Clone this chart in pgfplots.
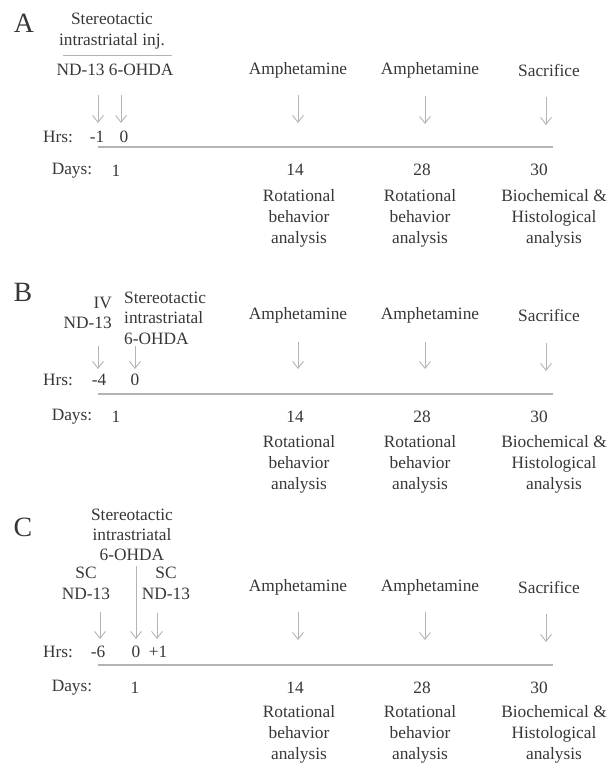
\documentclass[border=0pt]{standalone}
\usepackage{pgfplots}
\pgfplotsset{compat=1.18}
\usepackage{fontspec}
\setmainfont{Liberation Serif}
\usetikzlibrary{arrows.meta}

\definecolor{txtc}{RGB}{55,55,55}
\definecolor{linec}{RGB}{180,180,180}

\begin{document}
\begin{tikzpicture}[
  txt/.style={text=txtc, font=\fontsize{17.4}{21}\selectfont, inner sep=0pt, align=center},
  big/.style={text=txtc, font=\fontsize{28}{30}\selectfont, inner sep=0pt},
]
\begin{axis}[
  width=607bp, height=767bp, scale only axis,
  xmin=0, xmax=607, ymin=0, ymax=767,
  y dir=reverse,
  hide axis, clip=false,
  tl/.style={color=linec, line width=1.4pt},
  ar/.style={color=linec, line width=0.9pt, -{Straight Barb[length=7pt,width=11pt]}},
]
\path (rel axis cs:0,0) rectangle (rel axis cs:1,1);

% ---------------- A
\node[big] at (axis cs:24,23) {A};
\node[txt] at (axis cs:112,31) {Stereotactic\\intrastriatal inj.};
\addplot[tl, line width=1pt] coordinates {(63,56) (172,56)};
\node[txt] at (axis cs:115,70) {ND-13 6-OHDA};
\addplot[ar] coordinates {(98,95) (98,123)};
\addplot[ar] coordinates {(121,95) (121,123)};
\node[txt] at (axis cs:58,137) {Hrs:};
\node[txt] at (axis cs:97,137) {-1};
\node[txt] at (axis cs:124,137) {0};
\addplot[tl] coordinates {(98,147) (553,147)};
\node[txt] at (axis cs:72,171) {Days:};
\node[txt] at (axis cs:116,171) {1};
% events
\node[txt] at (axis cs:298,70) {Amphetamine};
\node[txt] at (axis cs:430,70) {Amphetamine};
\node[txt] at (axis cs:549,70) {Sacrifice};
\addplot[ar] coordinates {(298,95) (298,123)};
\addplot[ar] coordinates {(425,96) (425,124)};
\addplot[ar] coordinates {(546,97) (546,125)};
\node[txt] at (axis cs:295,170) {14};
\node[txt] at (axis cs:422,170) {28};
\node[txt] at (axis cs:539,170) {30};
\node[txt] at (axis cs:299,218) {Rotational\\behavior\\analysis};
\node[txt] at (axis cs:420,218) {Rotational\\behavior\\analysis};
\node[txt] at (axis cs:554,218) {Biochemical \&\\Histological\\analysis};

% ---------------- B
\node[big] at (axis cs:23,292) {B};
\node[txt, anchor=east, align=right, font=\fontsize{17.4}{20}\selectfont] at (axis cs:112,313) {IV\\ND-13};
\node[txt, anchor=west, align=left, font=\fontsize{17.4}{20.5}\selectfont] at (axis cs:124,318) {Stereotactic\\intrastriatal\\6-OHDA};
\addplot[ar] coordinates {(98,346) (98,369)};
\addplot[ar] coordinates {(135,346) (135,369)};
\node[txt] at (axis cs:58,380) {Hrs:};
\node[txt] at (axis cs:99,380) {-4};
\node[txt] at (axis cs:135,380) {0};
\addplot[tl] coordinates {(98,394) (553,394)};
\node[txt] at (axis cs:72,417) {Days:};
\node[txt] at (axis cs:116,417) {1};
\node[txt] at (axis cs:298,315) {Amphetamine};
\node[txt] at (axis cs:430,315) {Amphetamine};
\node[txt] at (axis cs:549,315) {Sacrifice};
\addplot[ar] coordinates {(298,342) (298,369)};
\addplot[ar] coordinates {(425,342) (425,369)};
\addplot[ar] coordinates {(546,343) (546,371)};
\node[txt] at (axis cs:295,417) {14};
\node[txt] at (axis cs:422,417) {28};
\node[txt] at (axis cs:539,417) {30};
\node[txt] at (axis cs:299,464) {Rotational\\behavior\\analysis};
\node[txt] at (axis cs:420,464) {Rotational\\behavior\\analysis};
\node[txt] at (axis cs:554,464) {Biochemical \&\\Histological\\analysis};

% ---------------- C
\node[big] at (axis cs:23,527) {C};
\node[txt, font=\fontsize{17.4}{20}\selectfont] at (axis cs:132,535) {Stereotactic\\intrastriatal\\6-OHDA};
\node[txt] at (axis cs:86,583) {SC\\ND-13};
\node[txt] at (axis cs:166,583) {SC\\ND-13};
\addplot[ar] coordinates {(136,566) (136,639)};
\addplot[ar] coordinates {(100,612) (100,639)};
\addplot[ar] coordinates {(157,613) (157,639)};
\node[txt] at (axis cs:58,652) {Hrs:};
\node[txt] at (axis cs:98,652) {-6};
\node[txt] at (axis cs:136,652) {0};
\node[txt] at (axis cs:158,652) {+1};
\addplot[tl] coordinates {(98,665) (553,665)};
\node[txt] at (axis cs:72,688) {Days:};
\node[txt] at (axis cs:135,688) {1};
\node[txt] at (axis cs:298,587) {Amphetamine};
\node[txt] at (axis cs:430,587) {Amphetamine};
\node[txt] at (axis cs:549,587) {Sacrifice};
\addplot[ar] coordinates {(298,612) (298,640)};
\addplot[ar] coordinates {(425,612) (425,640)};
\addplot[ar] coordinates {(546,614) (546,642)};
\node[txt] at (axis cs:295,688) {14};
\node[txt] at (axis cs:422,688) {28};
\node[txt] at (axis cs:539,688) {30};
\node[txt] at (axis cs:299,734) {Rotational\\behavior\\analysis};
\node[txt] at (axis cs:420,734) {Rotational\\behavior\\analysis};
\node[txt] at (axis cs:554,734) {Biochemical \&\\Histological\\analysis};
\end{axis}
\end{tikzpicture}
\end{document}
